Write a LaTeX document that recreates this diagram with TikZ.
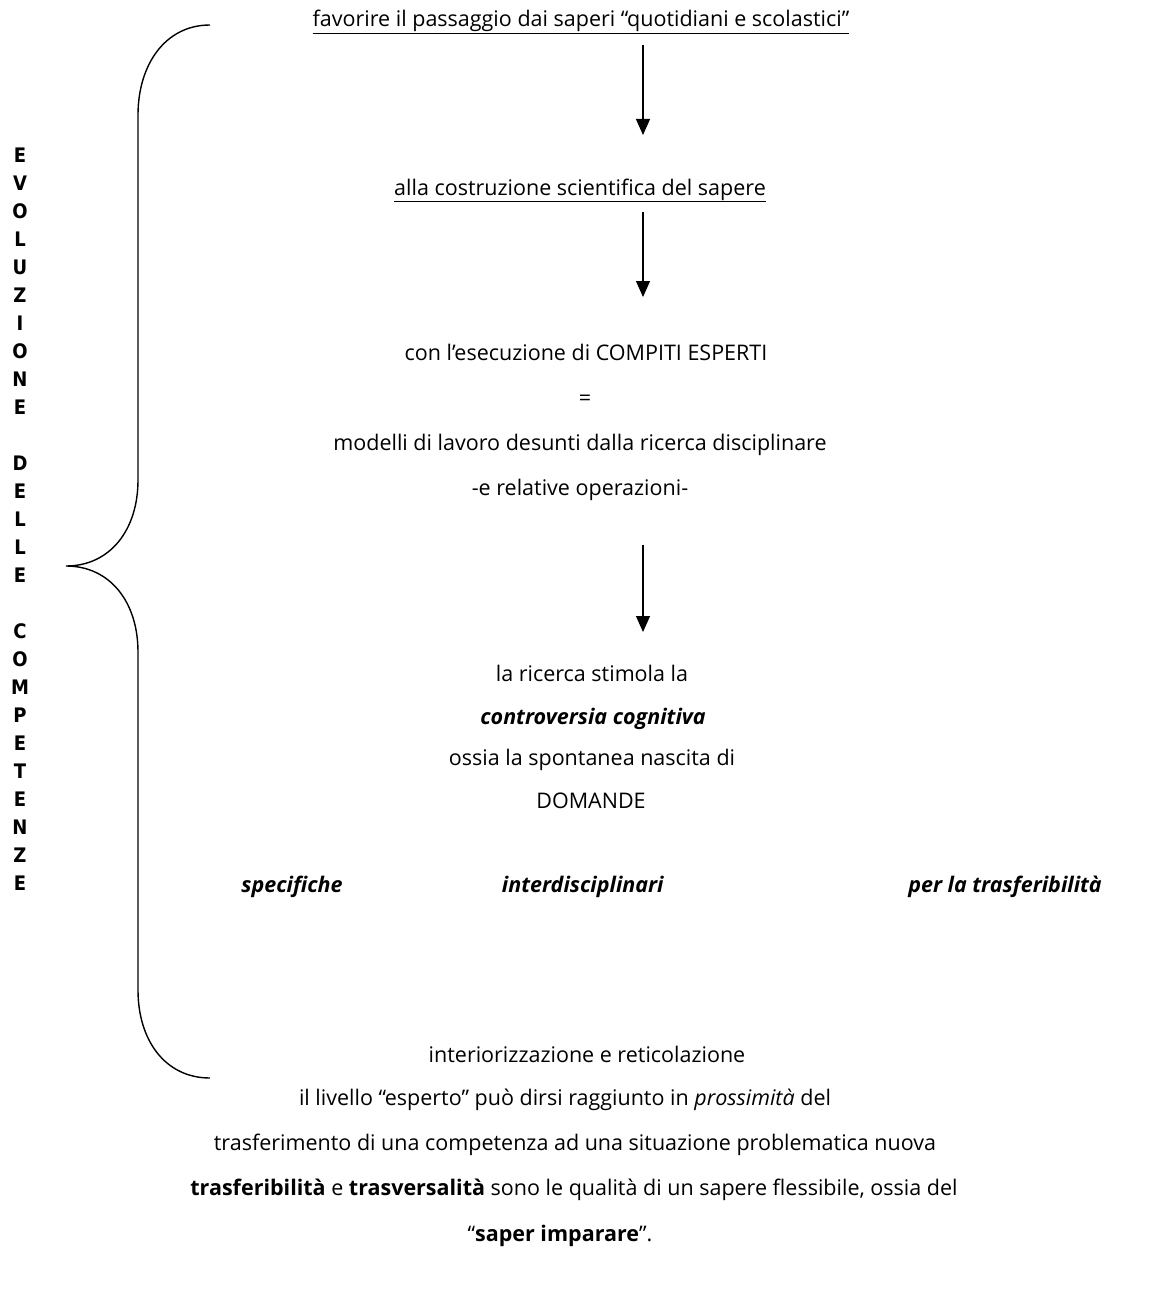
\documentclass[tikz,border=0pt]{standalone}
\usepackage{fontspec}
\setmainfont{Open Sans}
\newfontfamily\heavyfont{DejaVu Sans Condensed}
\usetikzlibrary{arrows.meta}
\tikzstyle{riga}=[font=\fontsize{21.5}{25}\selectfont,inner sep=0pt,text height=15pt,text depth=5pt]
\tikzstyle{lettera}=[font=\heavyfont\bfseries\fontsize{20}{22}\selectfont,inner sep=0pt]
\tikzstyle{freccia}=[line width=1.2pt,-{Triangle[length=16pt,width=14pt]}]

\begin{document}
\begin{tikzpicture}[x=1pt,y=-1pt]
\useasboundingbox (0,0) rectangle (1149,1316);

% graffa a sinistra
\draw[line width=1.4pt] (210,25) .. controls (165,25) and (138,65) .. (138,115) -- (138,480)
  .. controls (138,530) and (110,566) .. (66,566)
  .. controls (110,566) and (138,602) .. (138,652) -- (138,990)
  .. controls (138,1040) and (165,1078) .. (210,1078);

% scritta verticale
\foreach \l [count=\i] in {E,V,O,L,U,Z,I,O,N,E,{},D,E,L,L,E,{},C,O,M,P,E,T,E,N,Z,E}
  \node[lettera] (v\i) at (20,{155+(\i-1)*28}) {\l};

% testi
\node[riga] (t1) at (581,22) {\underline{favorire il passaggio dai saperi “quotidiani e scolastici”}};
\node[riga] (t2) at (580,190) {\underline{alla costruzione scientifica del sapere}};
\node[riga] (t3) at (586,355) {con l’esecuzione di COMPITI ESPERTI};
\node[riga] (t4) at (585,400) {=};
\node[riga] (t5) at (580,445) {modelli di lavoro desunti dalla ricerca disciplinare};
\node[riga] (t6) at (580,490) {-e relative operazioni-};
\node[riga] (t7) at (592,676) {la ricerca stimola la};
\node[riga] (t8) at (593,719) {\textbf{\textit{controversia cognitiva}}};
\node[riga] (t9) at (592,760) {ossia la spontanea nascita di};
\node[riga] (t10) at (591,803) {DOMANDE};
\node[riga] (s1) at (292,887) {\textbf{\textit{specifiche}}};
\node[riga] (s2) at (583,887) {\textbf{\textit{interdisciplinari}}};
\node[riga] (s3) at (1005,887) {\textbf{\textit{per la trasferibilità}}};
\node[riga] (t11) at (587,1057) {interiorizzazione e reticolazione};
\node[riga] (t12) at (565,1100) {il livello “esperto” può dirsi raggiunto in \textit{prossimità} del};
\node[riga] (t13) at (575,1145) {trasferimento di una competenza ad una situazione problematica nuova};
\node[riga] (t14) at (574,1190) {\textbf{trasferibilità} e \textbf{trasversalità} sono le qualità di un sapere flessibile, ossia del};
\node[riga] (t15) at (560,1236) {“\textbf{saper imparare}”.};

% frecce
\foreach \ya/\yb [count=\k] in {45/135,212/297,545/632}{
  \coordinate (a\k) at (643,\ya);
  \coordinate (b\k) at (643,\yb);
  \draw[freccia] (a\k) -- (b\k);
}
\end{tikzpicture}
\end{document}
